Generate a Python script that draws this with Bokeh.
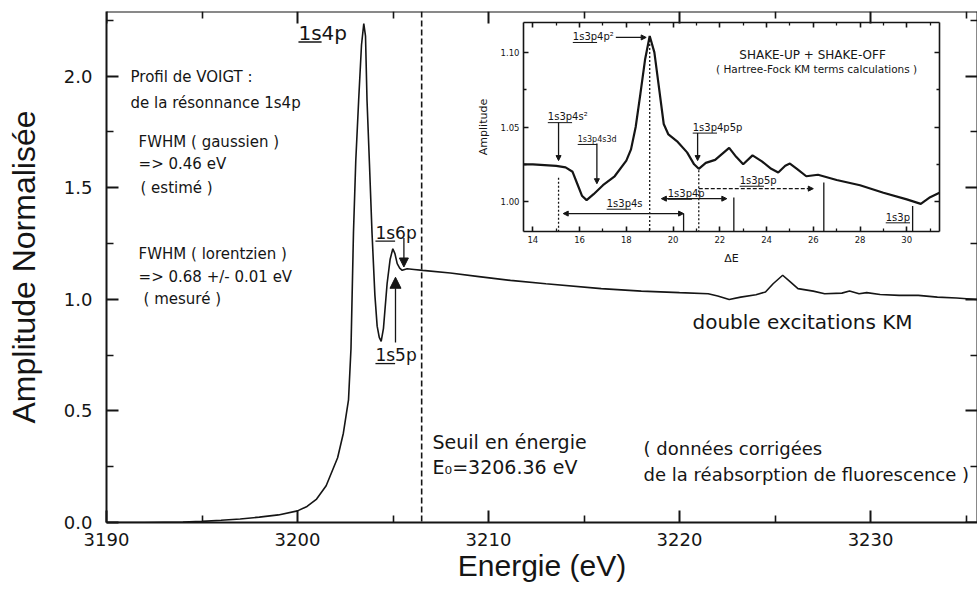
from bokeh.plotting import figure
from bokeh.models import (Range1d, LinearAxis, FixedTicker, PrintfTickFormatter,
                          Arrow, NormalHead, Span)
from bokeh.core.properties import value
from bokeh.embed import file_html
from bokeh.resources import INLINE

# ---------------- data ----------------
energy = [3190.0, 3192.0, 3194.0, 3195.0, 3196.0, 3197.0, 3198.0, 3199.0, 3200.0,
          3200.5, 3201.0, 3201.5, 3202.1, 3202.4, 3202.67, 3202.8, 3202.93, 3203.05,
          3203.2, 3203.35, 3203.47, 3203.56, 3203.64, 3203.77, 3203.9, 3204.05,
          3204.17, 3204.28, 3204.38, 3204.5, 3204.69, 3204.85, 3204.99, 3205.1,
          3205.22, 3205.35, 3205.48, 3205.74, 3206.1, 3206.56, 3208.0, 3209.5,
          3211.15, 3213.0, 3215.9, 3218.0, 3220.0, 3221.5, 3222.0, 3222.6, 3223.2,
          3224.0, 3224.5, 3224.9, 3225.4, 3225.8, 3226.2, 3227.0, 3227.6, 3228.5,
          3228.9, 3229.4, 3229.8, 3230.5, 3231.5, 3232.5, 3233.5, 3234.5, 3235.6]
amplitude = [0.000, 0.000, 0.002, 0.005, 0.010, 0.016, 0.024, 0.034, 0.052,
             0.072, 0.105, 0.165, 0.290, 0.400, 0.550, 0.780, 1.300, 1.620,
             1.890, 2.140, 2.236, 2.180, 1.890, 1.600, 1.300, 1.020,
             0.880, 0.830, 0.812, 0.870, 1.070, 1.180, 1.227, 1.205,
             1.160, 1.140, 1.130, 1.137, 1.134, 1.130, 1.118, 1.102,
             1.085, 1.070, 1.048, 1.037, 1.030, 1.025, 1.015, 0.999, 1.010,
             1.021, 1.033, 1.070, 1.108, 1.078, 1.048, 1.037, 1.025, 1.028,
             1.037, 1.025, 1.030, 1.022, 1.018, 1.018, 1.010, 1.006, 0.999]

delta_e = [13.6, 14.0, 14.5, 15.0, 15.4, 15.7, 15.9, 16.1, 16.3, 16.6, 17.0, 17.5,
           18.0, 18.2, 18.4, 18.6, 18.8, 19.0, 19.2, 19.4, 19.6, 19.8, 20.2, 20.6,
           20.9, 21.1, 21.4, 21.8, 22.1, 22.4, 22.7, 23.0, 23.4, 23.8, 24.2, 24.5,
           24.8, 25.0, 25.3, 25.7, 26.2, 27.0, 28.0, 29.0, 30.0, 30.6, 31.0, 31.4]
inset_amp = [1.025, 1.025, 1.0245, 1.024, 1.023, 1.020, 1.012, 1.004, 1.001, 1.005,
             1.011, 1.017, 1.0275, 1.035, 1.050, 1.072, 1.095, 1.111, 1.100, 1.076,
             1.052, 1.045, 1.040, 1.033, 1.025, 1.022, 1.026, 1.028, 1.032, 1.036,
             1.030, 1.025, 1.031, 1.027, 1.022, 1.0195, 1.024, 1.0255, 1.022, 1.017,
             1.018, 1.0145, 1.011, 1.006, 1.0015, 0.9985, 1.003, 1.006]

x_ticks = [3190, 3200, 3210, 3220, 3230]
x_minor = [3195, 3205, 3215, 3225, 3235]
y_ticks = [0.0, 0.5, 1.0, 1.5, 2.0]
y_minor = [0.25, 0.75, 1.25, 1.75, 2.25]
inset_x_ticks = [14, 16, 18, 20, 22, 24, 26, 28, 30]
inset_x_minor = [15, 17, 19, 21, 23, 25, 27, 29, 31]
inset_y_ticks = [1.00, 1.05, 1.10]
inset_y_minor = [1.025, 1.075]

threshold_line = 3206.5          # dashed "Seuil" line
# inset markers (ΔE, amplitude)
dotted_x = [15.1, 19.0, 21.1]
dotted_top = [1.016, 1.111, 1.021]
solid_x = [20.45, 22.6, 26.45, 30.25]
solid_top = [0.992, 1.0027, 1.0128, 0.997]

# ---------------- layout ----------------
W, H = 977, 589
BL, BR, BT = 106, 0, 11
BB = H - 522
FW, FH = W - BL - BR, H - BT - BB
XR = (3190.0, 3235.6)
YR = (0.0, 2.29)
IXR = (13.6, 31.4)
IYR = (0.98, 1.12)
# inset box in frame pixels (left, right, top, bottom)
IL, IR, IT, IB = 417, 833, 11, 220
dpx = (IXR[1] - IXR[0]) / (IR - IL)
apx = (IYR[1] - IYR[0]) / (IB - IT)
de_start = IXR[0] - IL * dpx
de_end = de_start + FW * dpx
amp_end = IYR[1] + IT * apx
amp_start = amp_end - FH * apx
ex_px = FW / (XR[1] - XR[0])
ey_px = FH / (YR[1] - YR[0])

INK = "#151515"
FONT = "DejaVu Sans"

p = figure(width=W, height=H, x_range=Range1d(*XR), y_range=Range1d(*YR),
           x_axis_type=None, y_axis_type=None, toolbar_location=None,
           output_backend="svg", title=None,
           min_border_left=BL, min_border_right=BR, min_border_top=BT,
           min_border_bottom=BB, outline_line_color=None,
           background_fill_color="white", border_fill_color="white")
p.extra_x_ranges = {"dE": Range1d(de_start, de_end)}
p.extra_y_ranges = {"amp": Range1d(amp_start, amp_end)}


def add_axis(place, ticks, minor, fmt, loc, labels=True, bounds="auto",
             xr="default", yr="default", font_size="18px", tick_in=12,
             minor_in=7, lw=2.0, label=None, label_size="30px",
             label_font="Liberation Sans", label_standoff=0, standoff=10):
    ax = LinearAxis(ticker=FixedTicker(ticks=ticks, minor_ticks=minor),
                    formatter=PrintfTickFormatter(format=fmt),
                    fixed_location=loc, bounds=bounds,
                    x_range_name=xr, y_range_name=yr,
                    axis_line_width=lw, axis_line_color=INK,
                    major_tick_in=tick_in, major_tick_out=0,
                    minor_tick_in=minor_in, minor_tick_out=0,
                    major_tick_line_width=lw, minor_tick_line_width=lw * 0.8,
                    major_tick_line_color=INK, minor_tick_line_color=INK,
                    major_label_text_font=FONT,
                    major_label_text_font_size=font_size,
                    major_label_text_color=INK,
                    major_label_standoff=standoff)
    if not labels:
        ax.major_label_overrides = {t: "" for t in ticks}
    if label:
        ax.axis_label = label
        ax.axis_label_text_font = label_font
        ax.axis_label_text_font_size = label_size
        ax.axis_label_text_font_style = "normal"
        ax.axis_label_text_color = INK
        ax.axis_label_standoff = label_standoff
    p.add_layout(ax, place)
    return ax


# main axes (regular side axes so their labels sit in the borders)
add_axis("below", x_ticks, x_minor, "%d", None, label="Energie (eV)",
         standoff=10, label_standoff=0)
add_axis("left", y_ticks, y_minor, "%.1f", None, label="Amplitude Normalisée",
         label_size="32px", standoff=14, label_standoff=19)
add_axis("above", x_ticks, x_minor, "%d", YR[1], labels=False)
add_axis("right", y_ticks, y_minor, "%.1f", XR[1], labels=False)

# inset axes
ikw = dict(xr="dE", yr="amp", font_size="8.5px", tick_in=5, minor_in=3, lw=1.6)
add_axis("below", inset_x_ticks, inset_x_minor, "%d", IYR[0], bounds=IXR,
         label="ΔE", label_size="11px", label_font=FONT, label_standoff=6,
         standoff=4, **ikw)
add_axis("left", inset_y_ticks, inset_y_minor, "%.2f", IXR[0], bounds=IYR,
         label="Amplitude", label_size="11px", label_font=FONT,
         label_standoff=8, standoff=4, **ikw)
add_axis("above", inset_x_ticks, inset_x_minor, "%d", IYR[1], bounds=IXR,
         labels=False, **ikw)
add_axis("right", inset_y_ticks, inset_y_minor, "%.2f", IXR[1], bounds=IYR,
         labels=False, **ikw)

# curves
p.line(energy, amplitude, line_color=INK, line_width=1.6)
p.line(delta_e, inset_amp, x_range_name="dE", y_range_name="amp",
       line_color=INK, line_width=2.2)

# threshold
p.add_layout(Span(location=threshold_line, dimension="height", line_color=INK,
                  line_width=1.6, line_dash="6 3"))

# inset markers
p.segment(x0=dotted_x, y0=dotted_top, x1=dotted_x, y1=[IYR[0]] * len(dotted_x),
          x_range_name="dE", y_range_name="amp", line_color=INK,
          line_width=1.3, line_dash="2 2")
p.segment(x0=solid_x, y0=solid_top, x1=solid_x, y1=[IYR[0]] * len(solid_x),
          x_range_name="dE", y_range_name="amp", line_color=INK, line_width=1.3)


def arrow(x0, y0, x1, y1, size=7, both=False, inset=False, dash="solid", lw=1.3):
    kw = dict(x_range_name="dE", y_range_name="amp") if inset else {}
    a = Arrow(end=NormalHead(size=size, fill_color=INK, line_color=INK, line_width=1),
              x_start=x0, y_start=y0, x_end=x1, y_end=y1, line_color=INK,
              line_width=lw, line_dash=dash, **kw)
    if both:
        a.start = NormalHead(size=size, fill_color=INK, line_color=INK, line_width=1)
    p.add_layout(a)


# main arrows
arrow(3205.57, 1.275, 3205.57, 1.145, size=9)
arrow(3205.13, 0.807, 3205.13, 1.099, size=11)
# inset arrows
arrow(17.55, 1.110, 18.85, 1.110, size=5, inset=True)
arrow(15.1, 1.053, 15.1, 1.0275, size=5, inset=True)
arrow(16.74, 1.039, 16.74, 1.012, size=5, inset=True)
arrow(21.05, 1.046, 21.05, 1.0275, size=5, inset=True)
arrow(15.3, 0.992, 20.45, 0.992, size=5, both=True, inset=True)
arrow(19.5, 1.002, 22.3, 1.002, size=5, both=True, inset=True)
arrow(21.1, 1.0087, 26.0, 1.0087, size=5, inset=True, dash="4 2")


def txt(x, y, s, size, align="left", inset=False, font=FONT):
    kw = dict(x_range_name="dE", y_range_name="amp") if inset else {}
    p.text(x=[x], y=[y], text=[s], text_font=value(font),
           text_font_size=f"{size}px", text_align=align,
           text_baseline="middle", text_color=INK, **kw)


# main notes
left_notes = [("Profil de VOIGT :", 3191.26, 1.996),
              ("de la résonnance 1s4p", 3191.26, 1.879),
              ("FWHM ( gaussien )", 3191.68, 1.704),
              ("=> 0.46 eV", 3191.68, 1.605),
              ("( estimé )", 3191.78, 1.498),
              ("FWHM ( lorentzien )", 3191.68, 1.202),
              ("=> 0.68 +/- 0.01 eV", 3191.68, 1.099),
              ("( mesuré )", 3191.94, 1.000)]
for s, x, y in left_notes:
    txt(x, y, s, 15)
txt(3207.07, 0.359, "Seuil en énergie", 19)
txt(3207.07, 0.247, "E₀=3206.36 eV", 19)
txt(3218.12, 0.332, "( données corrigées", 18)
txt(3218.12, 0.215, "de la réabsorption de fluorescence )", 18)
txt(3220.68, 0.897, "double excitations KM", 20)

# DejaVu Sans advance widths (em) for underlined parts
ADV = {"1": 0.636, "s": 0.521, "3": 0.636, "p": 0.635}


def underlined(x, y, s, under, size, inset=False):
    txt(x, y, s, size, inset=inset)
    w = sum(ADV[c] for c in under) * size
    drop = 0.365 * size + 2.0
    if inset:
        x1 = x + w * dpx
        yy = y - drop * apx
        p.segment(x0=[x], y0=[yy], x1=[x1], y1=[yy], x_range_name="dE",
                  y_range_name="amp", line_color=INK, line_width=1.0)
    else:
        x1 = x + w / ex_px
        yy = y - drop / ey_px
        p.segment(x0=[x], y0=[yy], x1=[x1], y1=[yy], line_color=INK, line_width=1.3)


underlined(3200.05, 2.195, "1s4p", "1s", 20)
underlined(3204.08, 1.298, "1s6p", "1s", 17)
underlined(3204.08, 0.749, "1s5p", "1s", 17)

inset_labels = [("1s3p4p²", 15.71, 1.1104, 10),
                ("1s3p4s²", 14.64, 1.0567, 10),
                ("1s3p4s3d", 15.92, 1.0416, 8),
                ("1s3p4p5p", 20.84, 1.0497, 10),
                ("1s3p4s", 17.16, 0.9987, 10),
                ("1s3p4p", 19.77, 1.0054, 10),
                ("1s3p5p", 22.85, 1.0141, 10),
                ("1s3p", 29.10, 0.9896, 10)]
for s, x, y, sz in inset_labels:
    underlined(x, y, s, "1s3p", sz, inset=True)

txt(25.97, 1.098, "SHAKE-UP + SHAKE-OFF", 12, align="center", inset=True)
txt(26.14, 1.089, "( Hartree-Fock KM terms calculations )", 10.5, align="center",
    inset=True)

open("out.html", "w").write(file_html(p, INLINE))
